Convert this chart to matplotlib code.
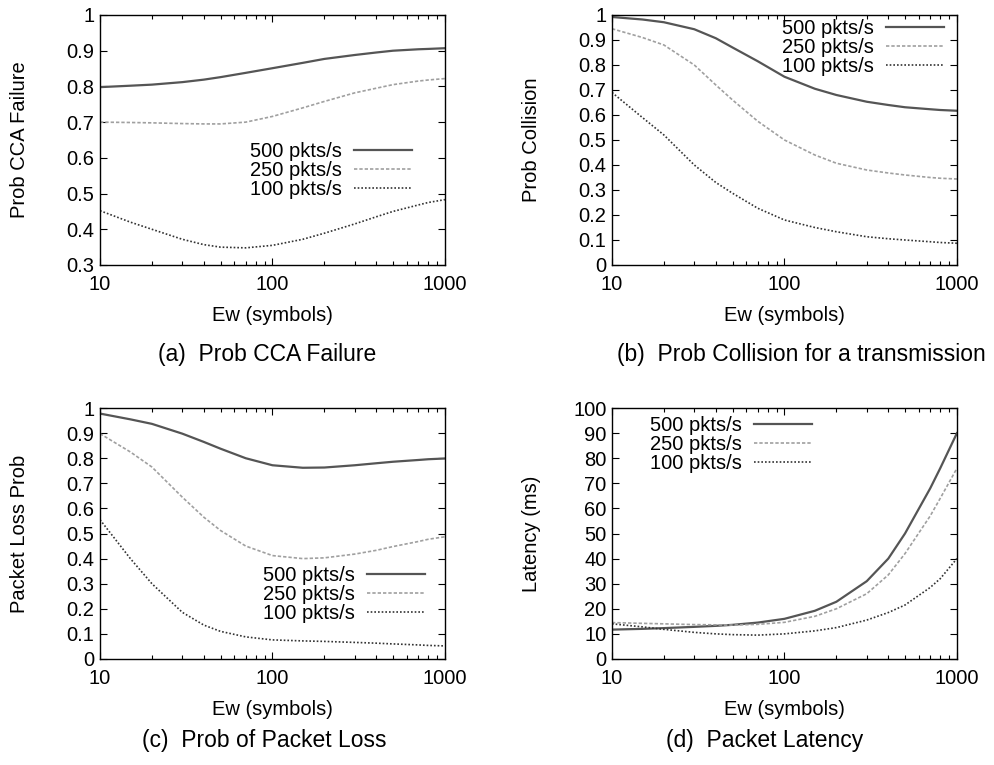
import numpy as np
import matplotlib
matplotlib.use("Agg")
import matplotlib.pyplot as plt
from matplotlib.ticker import LogLocator, FixedLocator, NullFormatter

plt.rcParams['font.family'] = ['Liberation Sans', 'DejaVu Sans']

ew = [10, 15, 20, 30, 40, 50, 70, 100, 150, 200, 300, 400, 500, 700, 800, 1000]
labels = ["500 pkts/s", "250 pkts/s", "100 pkts/s"]

# (a) prob CCA failure
cca_500 = [0.798, 0.802, 0.805, 0.812, 0.819, 0.826, 0.838, 0.851, 0.866, 0.877, 0.888, 0.895, 0.900, 0.904, 0.905, 0.907]
cca_250 = [0.700, 0.699, 0.698, 0.696, 0.695, 0.695, 0.700, 0.716, 0.740, 0.758, 0.782, 0.795, 0.805, 0.815, 0.818, 0.822]
cca_100 = [0.452, 0.420, 0.400, 0.372, 0.357, 0.350, 0.348, 0.355, 0.372, 0.389, 0.415, 0.435, 0.450, 0.468, 0.475, 0.483]

# (b) prob collision
col_500 = [0.992, 0.982, 0.971, 0.943, 0.907, 0.870, 0.815, 0.753, 0.705, 0.680, 0.653, 0.640, 0.631, 0.623, 0.620, 0.617]
col_250 = [0.945, 0.910, 0.880, 0.800, 0.720, 0.660, 0.575, 0.500, 0.440, 0.407, 0.380, 0.368, 0.360, 0.350, 0.347, 0.344]
col_100 = [0.690, 0.590, 0.520, 0.400, 0.330, 0.287, 0.227, 0.180, 0.150, 0.133, 0.113, 0.105, 0.100, 0.093, 0.090, 0.087]

# (c) prob of packet loss
loss_500 = [0.978, 0.955, 0.937, 0.898, 0.865, 0.838, 0.800, 0.772, 0.762, 0.763, 0.772, 0.780, 0.786, 0.793, 0.796, 0.799]
loss_250 = [0.898, 0.825, 0.765, 0.645, 0.565, 0.512, 0.450, 0.412, 0.400, 0.403, 0.418, 0.433, 0.448, 0.468, 0.477, 0.487]
loss_100 = [0.555, 0.400, 0.300, 0.186, 0.135, 0.110, 0.088, 0.076, 0.072, 0.070, 0.066, 0.063, 0.060, 0.056, 0.054, 0.052]

# (d) packet latency (ms)
lat_500 = [11.7, 12.0, 12.3, 12.8, 13.2, 13.6, 14.5, 16.0, 19.2, 22.8, 31.0, 40.0, 50.0, 68.0, 76.0, 90.0]
lat_250 = [14.5, 14.2, 14.0, 13.7, 13.6, 13.5, 13.8, 14.6, 17.0, 20.0, 26.0, 33.5, 42.0, 57.0, 64.0, 76.0]
lat_100 = [14.0, 12.8, 11.8, 10.6, 10.0, 9.7, 9.5, 10.0, 11.2, 12.5, 15.5, 18.5, 21.5, 28.5, 32.0, 40.0]

styles = [dict(color="#555555", lw=1.6, ls="-"),
          dict(color="#a0a0a0", lw=1.2, ls=(0, (2.0, 1.2))),
          dict(color="#333333", lw=1.2, ls=(0, (1.0, 1.2)))]

panels = [
    ([cca_500, cca_250, cca_100], "Prob CCA Failure", (0.3, 1.0), np.arange(0.3, 1.01, 0.1),
     [0.1006, 0.6536, 0.347, 0.3268], (0.905, 0.49), "(a)  Prob CCA Failure", (267, 355)),
    ([col_500, col_250, col_100], "Prob Collision", (0.0, 1.0), np.arange(0, 1.01, 0.1),
     [0.6157, 0.6536, 0.347, 0.3268], (0.963, 0.985), "(b)  Prob Collision for a transmission", (801, 355)),
    ([loss_500, loss_250, loss_100], "Packet Loss Prob", (0.0, 1.0), np.arange(0, 1.01, 0.1),
     [0.1006, 0.1386, 0.347, 0.328], (0.943, 0.37), "(c)  Prob of Packet Loss", (264, 740)),
    ([lat_500, lat_250, lat_100], "Latency (ms)", (0, 100), np.arange(0, 101, 10),
     [0.6157, 0.1386, 0.347, 0.328], (0.58, 0.97), "(d)  Packet Latency", (765, 740)),
]

W, H = 994, 765
fig = plt.figure(figsize=(W / 100, H / 100), dpi=100)

for series, ylab, ylim, yticks, pos, leg_xy, caption, cap_xy in panels:
    ax = fig.add_axes(pos)
    for vals, lab, st in zip(series, labels, styles):
        ax.plot(ew, vals, label=lab, **st)
    ax.set_xscale("log")
    ax.set_xlim(10, 1000)
    ax.set_ylim(*ylim)
    ax.set_yticks(yticks)
    ax.set_yticklabels(["{:g}".format(round(t, 1)) for t in yticks])
    ax.xaxis.set_major_locator(FixedLocator([10, 100, 1000]))
    ax.set_xticklabels(["10", "100", "1000"])
    ax.xaxis.set_minor_locator(LogLocator(base=10, subs=np.arange(2, 10)))
    ax.xaxis.set_minor_formatter(NullFormatter())
    ax.tick_params(which="both", direction="in", top=True, right=True, labelsize=14.5, width=0.8, color="black")
    ax.tick_params(which="major", length=5)
    ax.tick_params(axis="x", which="major", pad=7)
    ax.tick_params(axis="y", which="major", pad=4)
    ax.tick_params(which="minor", length=3)
    for sp in ax.spines.values():
        sp.set_linewidth(1.0)
    ax.set_xlabel("Ew (symbols)", fontsize=14.5, labelpad=9)
    ax.set_ylabel(ylab, fontsize=14.5)
    ax.yaxis.set_label_coords(-0.205, 0.5)
    ax.legend(loc="upper right", bbox_to_anchor=leg_xy, frameon=False, markerfirst=False,
              fontsize=14.5, handlelength=2.9, handletextpad=0.6, labelspacing=0.0,
              borderpad=0, borderaxespad=0)
    fig.text(cap_xy[0] / W, 1 - cap_xy[1] / H, caption, fontsize=16.5, ha="center", va="center")

fig.savefig("out.png", dpi=100)
